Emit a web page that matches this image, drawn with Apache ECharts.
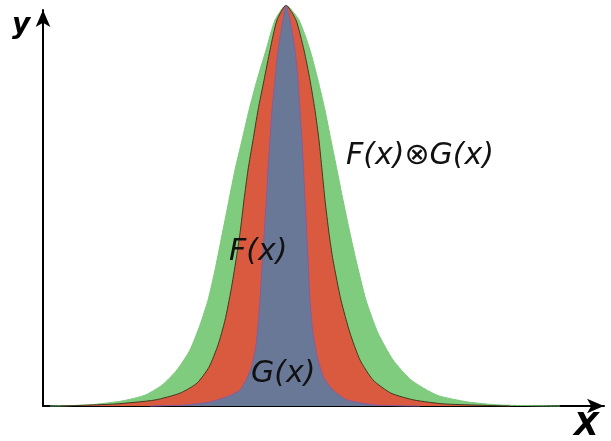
<!DOCTYPE html>
<html><head><meta charset="utf-8">
<script src="https://cdn.jsdelivr.net/npm/echarts@6/dist/echarts.min.js"></script>
<style>html,body{margin:0;padding:0;background:#fff}#c{width:611px;height:441px}</style>
</head><body><div id="c"></div>
<script>
// Convolution F(x) ⊗ G(x) (green), F(x) (red), G(x) (blue) (peak = 100)
const greenX = [-11.8,-9.9,-8.2,-7.05,-6.2,-5.45,-4.8,-4.3,-3.9,-3.55,-3.25,-2.95,-2.55,-2.2,-1.85,-1.45,-1.0,-0.55,0,
                0.65,1.2,1.6,1.95,2.25,2.55,2.85,3.2,3.5,4.0,4.6,5.35,6.25,7.55,9.1,10.7,13.7];
const greenY = [0,0.25,1.25,2.7,5.2,9.0,14.0,20.2,26.4,33.9,41.4,48.9,58.9,66.3,73.8,81.3,88.8,96.3,100,
                96.3,88.8,81.3,73.8,66.3,58.9,51.4,43.1,36.4,26.4,18.2,11.5,6.5,2.7,1.0,0.25,0];
const redX = [-11.3,-8.55,-6.55,-5.3,-4.45,-3.85,-3.4,-3.05,-2.75,-2.5,-2.3,-2.1,-1.9,-1.65,-1.4,-1.1,-0.8,-0.45,0,
              0.5,0.9,1.2,1.45,1.65,1.8,1.95,2.15,2.35,2.75,3.2,3.7,4.35,5.25,6.4,7.95,11.2];
const redY = [0,0.5,1.5,3.2,5.7,9.7,15.2,21.4,28.9,36.4,43.1,51.4,58.9,66.3,73.8,81.3,88.8,96.3,100,
              96.3,88.8,81.3,73.8,66.3,58.9,51.4,43.1,36.4,26.4,18.2,11.5,6.5,3.2,1.5,0.5,0];
const blueX = [-6.8,-5.05,-3.8,-2.85,-2.3,-1.95,-1.7,-1.5,-1.38,-1.3,-1.15,-0.98,-0.9,-0.8,-0.7,-0.55,-0.4,-0.15,0,
               0.2,0.45,0.6,0.7,0.8,0.88,0.95,1.08,1.2,1.35,1.6,1.9,2.35,3.05,4.45,6.7];
const blueY = [0,0.25,1.0,2.5,4.0,7.0,10.2,15.2,21.4,26.4,38.9,51.4,58.9,66.3,73.8,81.3,88.8,96.3,100,
               96.3,88.8,81.3,73.8,66.3,58.9,51.4,38.9,26.4,18.2,11.5,7.0,4.0,1.5,0.25,0];
const labels = { conv: 'F(x)⊗G(x)', f: 'F(x)', g: 'G(x)', xName: 'X', yName: 'y' };

const zip = (xs, ys) => xs.map((x, i) => [x, ys[i]]);
const chart = echarts.init(document.getElementById('c'), null, { renderer: 'canvas' });
const axisCommon = {
  type: 'value',
  axisLine: { show: true, onZero: false, symbol: ['none', 'arrow'], symbolSize: [11, 17], lineStyle: { color: '#000', width: 2 } },
  axisTick: { show: false }, axisLabel: { show: false }, splitLine: { show: false }
};
const txt = { fontFamily: 'DejaVu Sans', fontStyle: 'italic', fill: '#111' };
const area = (data, line, fill, z) => ({
  type: 'line', data, smooth: 0.2, symbol: 'none', clip: false, z,
  lineStyle: { color: line, width: 1 }, areaStyle: { color: fill, opacity: 1 }
});
chart.setOption({
  animation: false,
  grid: { left: 43, right: 7, top: 10, bottom: 35 },
  xAxis: Object.assign({}, axisCommon, { min: -12.15, max: 15.9 }),
  yAxis: Object.assign({}, axisCommon, { min: 0, max: 98.8 }),
  series: [
    area(zip(greenX, greenY), '#7bc87a', '#80cc7e', 1),
    area(zip(redX, redY), '#3f3a1e', '#d95a3f', 2),
    area(zip(blueX, blueY), '#8a5a9e', '#6a7898', 3)
  ],
  graphic: [
    { type: 'text', left: 346, top: 141, z: 10, style: Object.assign({ text: labels.conv, fontSize: 30 }, txt) },
    { type: 'text', left: 229, top: 237, z: 10, style: Object.assign({ text: labels.f, fontSize: 30 }, txt) },
    { type: 'text', left: 251, top: 359, z: 10, style: Object.assign({ text: labels.g, fontSize: 30 }, txt) },
    { type: 'text', left: 12, top: 12, z: 10, style: { text: labels.yName, fontSize: 28, fontWeight: 'bold', fontStyle: 'italic', fontFamily: 'DejaVu Sans', fill: '#000' } },
    { type: 'text', left: 574, top: 411, z: 10, style: { text: labels.xName, fontSize: 32, fontWeight: 'bold', fontStyle: 'italic', fontFamily: 'DejaVu Sans', fill: '#000' } }
  ]
});
</script></body></html>
